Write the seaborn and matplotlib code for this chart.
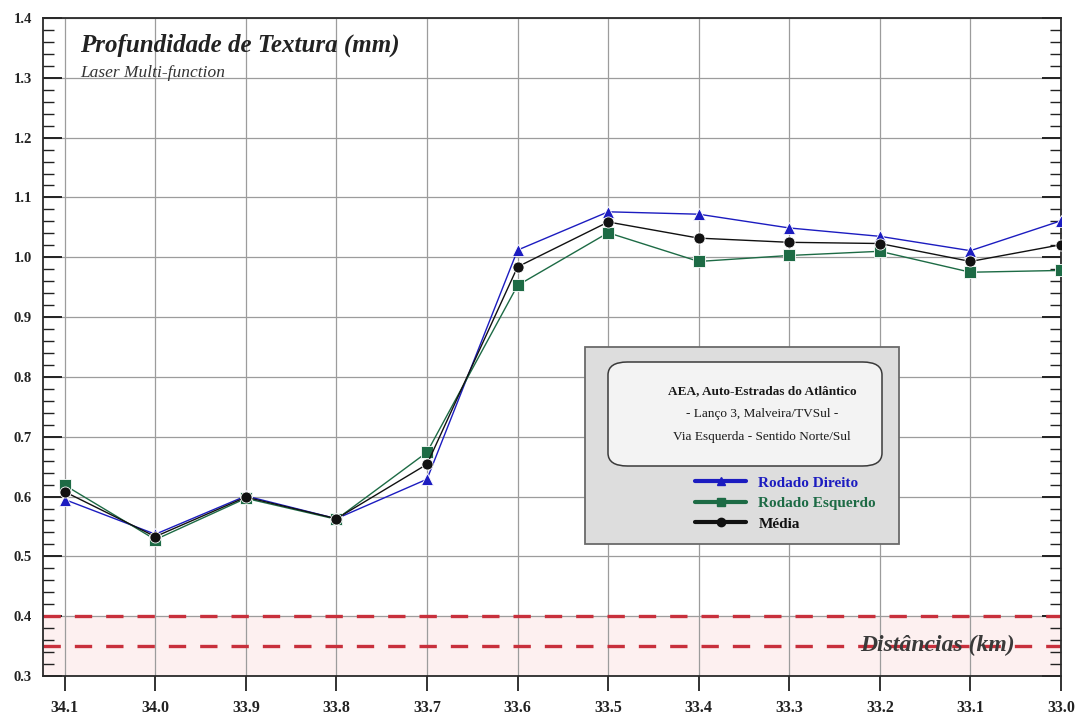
import matplotlib
matplotlib.use("Agg")
import numpy as np
import pandas as pd
import matplotlib.pyplot as plt
from matplotlib.patches import FancyBboxPatch, Rectangle
from matplotlib.lines import Line2D
from matplotlib.ticker import MultipleLocator, FormatStrFormatter
import seaborn as sns

# Distance along the motorway (km) and texture depth readings (mm)
km = [34.1, 34.0, 33.9, 33.8, 33.7, 33.6, 33.5, 33.4, 33.3, 33.2, 33.1, 33.0]
rodado_direito = [0.595, 0.537, 0.601, 0.563, 0.629, 1.012, 1.076, 1.072, 1.049, 1.035, 1.011, 1.061]
rodado_esquerdo = [0.619, 0.528, 0.597, 0.562, 0.674, 0.953, 1.041, 0.993, 1.003, 1.010, 0.975, 0.978]
media = [0.608, 0.533, 0.599, 0.563, 0.654, 0.984, 1.059, 1.032, 1.025, 1.023, 0.993, 1.021]

series_names = ["Rodado Direito", "Rodado Esquerdo", "Média"]
y_ticks = [0.3, 0.4, 0.5, 0.6, 0.7, 0.8, 0.9, 1.0, 1.1, 1.2, 1.3, 1.4]
x_ticks = km
limites = [0.40, 0.35]          # threshold lines
zona_min = [0.30, 0.40]         # shaded low-texture band

info_lines = ["AEA, Auto-Estradas do Atlântico",
              "- Lanço 3, Malveira/TVSul -",
              "Via Esquerda - Sentido Norte/Sul"]

colors = {"Rodado Direito": "#1c1cc0", "Rodado Esquerdo": "#1d6b45", "Média": "#111111"}
markers = {"Rodado Direito": "^", "Rodado Esquerdo": "s", "Média": "o"}

df = pd.DataFrame({
    "km": km * 3,
    "valor": rodado_direito + rodado_esquerdo + media,
    "serie": [series_names[0]] * len(km) + [series_names[1]] * len(km) + [series_names[2]] * len(km),
})

sns.set_style("ticks")
plt.rcParams["font.family"] = ["Liberation Serif", "DejaVu Serif"]

fig = plt.figure(figsize=(10.82, 7.2), dpi=100)
ax = fig.add_axes([43 / 1082, 1 - 676 / 720, (1061 - 43) / 1082, (676 - 18) / 720])

# low-texture band and thresholds
ax.axhspan(zona_min[0], zona_min[1], color="#fdf0f0", zorder=0)
for lv in limites:
    ax.axhline(lv, color="#c8303c", lw=2.4, dashes=(5.2, 4.2), zorder=2)

sns.lineplot(data=df, x="km", y="valor", hue="serie", style="serie",
             hue_order=series_names, style_order=series_names,
             palette=colors, markers=markers, dashes=False, sort=False,
             linewidth=1.0, markersize=8, markeredgewidth=0.6,
             legend=False, ax=ax, zorder=3)

ax.set_xlim(34.124, 33.0)
ax.set_ylim(0.3, 1.4)
ax.set_xticks(x_ticks)
ax.set_xticklabels([f"{v:.1f}" for v in x_ticks])
ax.set_yticks(y_ticks)
ax.yaxis.set_major_formatter(FormatStrFormatter("%.1f"))
ax.yaxis.set_minor_locator(MultipleLocator(0.02))
ax.set_xlabel("")
ax.set_ylabel("")

ax.grid(True, which="major", color="#9c9c9c", lw=0.9, zorder=1)
ax.set_axisbelow(True)
for s in ax.spines.values():
    s.set_color("#2a2a2a")
    s.set_linewidth(1.3)
    s.set_visible(True)

ax.tick_params(axis="y", which="major", direction="in", length=14, width=1.4,
               left=True, right=True, labelsize=10.5, colors="#222222", pad=8)
ax.tick_params(axis="y", which="minor", direction="in", length=8, width=1.0,
               left=True, right=True, colors="#222222")
ax.tick_params(axis="x", which="major", direction="out", length=11, width=1.3,
               labelsize=11.5, colors="#222222", pad=6)
for lab in ax.get_xticklabels() + ax.get_yticklabels():
    lab.set_fontweight("bold")

# titles
fig.text(80 / 1082, 1 - 45 / 720, "Profundidade de Textura (mm)", fontsize=18,
         fontweight="bold", fontstyle="italic", color="#222222", va="center", ha="left")
fig.text(80 / 1082, 1 - 73 / 720, "Laser Multi-function", fontsize=12.5,
         fontstyle="italic", color="#333333", va="center", ha="left")

# axis caption over the threshold line
fig.text(937 / 1082, 1 - 645 / 720, "Distâncias (km)", fontsize=17,
         fontweight="bold", fontstyle="italic", color="#3a3a3a", va="center",
         ha="center", zorder=1)

# information / legend panel
outer = Rectangle((585 / 1082, 1 - 544 / 720), (899 - 585) / 1082, (544 - 347) / 720,
                  transform=fig.transFigure, facecolor="#dddddd", edgecolor="#6a6a6a",
                  lw=1.3, zorder=4)
outer.set_clip_on(False)
ax.add_artist(outer)
inner = FancyBboxPatch((608 / 1082, 1 - 466 / 720), (882 - 608) / 1082, (466 - 362) / 720,
                       boxstyle="round,pad=0,rounding_size=0.018",
                       transform=fig.transFigure, facecolor="#f3f3f3",
                       edgecolor="#3a3a3a", lw=1.1, zorder=4.5)
inner.set_clip_on(False)
ax.add_artist(inner)
for i, (line, yy) in enumerate(zip(info_lines, [391, 414, 437])):
    fig.text(762 / 1082, 1 - yy / 720, line, fontsize=9.5,
             fontweight="bold" if i == 0 else "normal", color="#1a1a1a",
             ha="center", va="center", zorder=6)

handles = [Line2D([], [], color=colors[n], lw=3, marker=markers[n], markersize=6)
           for n in series_names]
leg = ax.legend(handles, series_names, loc="upper left",
                bbox_to_anchor=(695 / 1082, 1 - 476 / 720), bbox_transform=fig.transFigure,
                frameon=False, borderpad=0, borderaxespad=0, handlelength=3.35,
                handletextpad=0.8, labelspacing=0.45,
                prop={"family": "Liberation Serif", "weight": "bold", "size": 11})
leg.set_zorder(7)
for txt, n in zip(leg.get_texts(), series_names):
    txt.set_color(colors[n])

fig.savefig("out.png", dpi=100)
